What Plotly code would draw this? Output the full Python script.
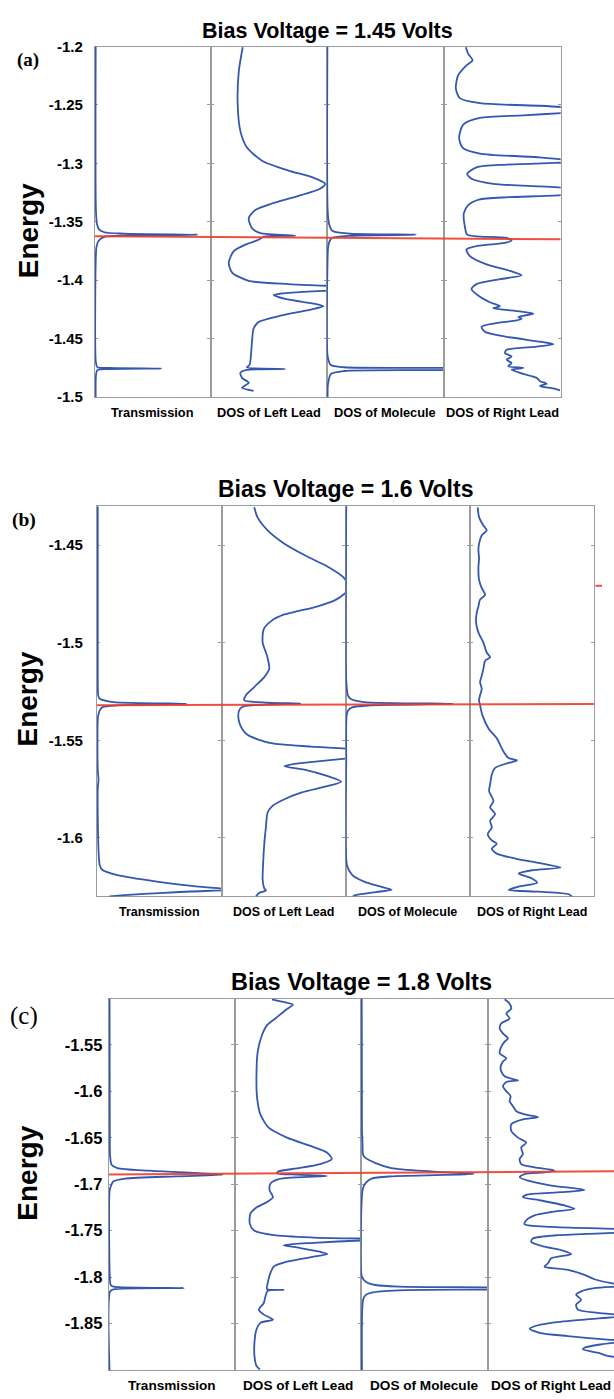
import plotly.graph_objects as go

W, H = 614, 1399

# ------------------------------------------------------------------ data
titles = ["Bias Voltage = 1.45 Volts", "Bias Voltage = 1.6 Volts", "Bias Voltage = 1.8 Volts"]
panel_tags = ["(a)", "(b)", "(c)"]
sub_labels = ["Transmission", "DOS of Left Lead", "DOS of Molecule", "DOS of Right Lead"]
y_label = "Energy"

y_ranges = [(-1.5, -1.2), (-1.63, -1.43), (-1.9, -1.5)]
tick_vals = [
    [-1.5, -1.45, -1.4, -1.35, -1.3, -1.25, -1.2],
    [-1.6, -1.55, -1.5, -1.45],
    [-1.85, -1.8, -1.75, -1.7, -1.65, -1.6, -1.55],
]
tick_text = [
    ["-1.5", "-1.45", "-1.4", "-1.35", "-1.3", "-1.25", "-1.2"],
    ["-1.6", "-1.55", "-1.5", "-1.45"],
    ["-1.85", "-1.8", "-1.75", "-1.7", "-1.65", "-1.6", "-1.55"],
]

# red line energy at the left and right end of each panel
fermi_pos = [0.0, 1.0]
fermi_a = [-1.3625, -1.3650]
fermi_b = [-1.5320, -1.5314]
fermi_c = [-1.6895, -1.6860]
# small red mark just right of panel (b)
dash_b_pos = [1.003, 1.016]
dash_b_E = [-1.4708, -1.4708]

# curves: (energy, value) ; value in units of subplot width
trans_a = [(-1.2, 0.006), (-1.34, 0.008), (-1.352, 0.017), (-1.3565, 0.035), (-1.359, 0.08),
           (-1.3602, 0.25), (-1.3611, 0.888), (-1.3618, 0.3), (-1.363, 0.08), (-1.3665, 0.03),
           (-1.372, 0.012), (-1.385, 0.006), (-1.47, 0.007), (-1.4745, 0.02), (-1.4752, 0.12),
           (-1.4757, 0.576), (-1.4762, 0.12), (-1.477, 0.02), (-1.482, 0.008), (-1.5, 0.006)]
left_a = [(-1.2006, 0.277), (-1.2217, 0.243), (-1.2499, 0.234), (-1.2724, 0.257), (-1.2865, 0.314),
          (-1.2977, 0.443), (-1.3062, 0.671), (-1.3118, 0.871), (-1.3175, 0.986), (-1.3217, 0.943),
          (-1.3287, 0.729), (-1.3344, 0.529), (-1.3400, 0.386), (-1.3470, 0.329), (-1.3555, 0.357),
          (-1.3597, 0.429), (-1.3620, 0.729), (-1.3628, 0.457), (-1.3654, 0.414), (-1.3696, 0.3),
          (-1.3752, 0.2), (-1.3851, 0.157), (-1.3935, 0.186), (-1.4006, 0.329), (-1.4034, 0.671),
          (-1.4048, 1.0), (-1.4068, 1.3), (-1.4090, 1.0), (-1.4110, 0.671), (-1.4127, 0.543),
          (-1.4161, 0.643), (-1.4203, 0.9), (-1.4223, 0.971), (-1.4251, 0.871), (-1.4302, 0.614),
          (-1.4358, 0.414), (-1.4414, 0.371), (-1.4527, 0.357), (-1.4724, 0.337), (-1.4747, 0.314),
          (-1.4761, 0.643), (-1.4769, 0.314), (-1.4794, 0.257), (-1.4837, 0.271), (-1.4879, 0.329),
          (-1.4921, 0.271), (-1.4949, 0.371)]
mol_a = [(-1.2, 0.006), (-1.34, 0.008), (-1.352, 0.02), (-1.358, 0.05), (-1.3602, 0.2),
         (-1.3611, 0.762), (-1.362, 0.2), (-1.3637, 0.05), (-1.3665, 0.025), (-1.372, 0.012),
         (-1.39, 0.006), (-1.465, 0.008), (-1.4727, 0.035), (-1.4746, 0.15), (-1.4752, 1.0),
         (-1.4761, 1.6), (-1.4770, 1.0), (-1.4778, 0.15), (-1.4805, 0.035), (-1.49, 0.01), (-1.5, 0.008)]
right_a = [(-1.2006, 0.189), (-1.2062, 0.209), (-1.2118, 0.246), (-1.2161, 0.194), (-1.2245, 0.123),
           (-1.2358, 0.103), (-1.2442, 0.137), (-1.2485, 0.309), (-1.2507, 0.823), (-1.2518, 1.01),
           (-1.2544, 1.3), (-1.2569, 1.01), (-1.2589, 0.68), (-1.2611, 0.309), (-1.2668, 0.166),
           (-1.2780, 0.131), (-1.2865, 0.16), (-1.2916, 0.309), (-1.2949, 0.823), (-1.2966, 1.01),
           (-1.2980, 1.3), (-1.2994, 1.01), (-1.3011, 0.537), (-1.3034, 0.28), (-1.3090, 0.2),
           (-1.3132, 0.237), (-1.3175, 0.423), (-1.3197, 0.823), (-1.3208, 1.0), (-1.3240, 1.2),
           (-1.3273, 1.0), (-1.3290, 0.55), (-1.3310, 0.3), (-1.3358, 0.209), (-1.3428, 0.171),
           (-1.3541, 0.18), (-1.3611, 0.2), (-1.3625, 0.28), (-1.3639, 0.537), (-1.3659, 0.58),
           (-1.3682, 0.523), (-1.3704, 0.309), (-1.3738, 0.194), (-1.3794, 0.223), (-1.3865, 0.366),
           (-1.3921, 0.566), (-1.3958, 0.666), (-1.3992, 0.48), (-1.4034, 0.28), (-1.4076, 0.237),
           (-1.4132, 0.294), (-1.4189, 0.394), (-1.4223, 0.48), (-1.4240, 0.423), (-1.4268, 0.651),
           (-1.4287, 0.766), (-1.4316, 0.637), (-1.4330, 0.666), (-1.4344, 0.623), (-1.4372, 0.423),
           (-1.4400, 0.323), (-1.4442, 0.351), (-1.4485, 0.537), (-1.4527, 0.823), (-1.4549, 0.937),
           (-1.4569, 0.794), (-1.4597, 0.537), (-1.4625, 0.523), (-1.4654, 0.58), (-1.4682, 0.537),
           (-1.4710, 0.58), (-1.4738, 0.551), (-1.4752, 0.68), (-1.4766, 0.58), (-1.4794, 0.651),
           (-1.4837, 0.794), (-1.4865, 0.823), (-1.4887, 0.88), (-1.4907, 0.823), (-1.4927, 0.937),
           (-1.4944, 0.994)]

trans_b = [(-1.43, 0.006), (-1.5195, 0.006), (-1.5271, 0.01), (-1.5287, 0.022), (-1.5304, 0.132),
           (-1.5313, 0.716), (-1.5321, 0.164), (-1.5330, 0.044), (-1.5347, 0.022), (-1.538, 0.008),
           (-1.565, 0.006), (-1.5701, 0.012), (-1.575, 0.006), (-1.614, 0.022), (-1.6165, 0.044),
           (-1.6191, 0.164), (-1.6224, 0.48), (-1.6249, 0.795), (-1.6266, 1.1), (-1.6275, 0.75),
           (-1.6283, 0.5), (-1.6292, 0.25), (-1.63, 0.1)]
left_b = [(-1.4306, 0.264), (-1.4356, 0.29), (-1.4424, 0.372), (-1.4492, 0.507), (-1.4559, 0.695),
          (-1.4610, 0.857), (-1.4661, 0.978), (-1.4678, 1.0), (-1.4711, 1.05), (-1.4745, 1.0),
          (-1.4779, 0.924), (-1.4813, 0.776), (-1.4838, 0.615), (-1.4855, 0.507), (-1.4889, 0.4),
          (-1.4931, 0.34), (-1.4999, 0.332), (-1.5066, 0.367), (-1.5134, 0.385), (-1.5176, 0.345),
          (-1.5227, 0.264), (-1.5269, 0.197), (-1.5295, 0.183), (-1.5307, 0.372), (-1.5312, 0.636),
          (-1.5317, 0.372), (-1.5325, 0.183), (-1.5337, 0.151), (-1.5371, 0.135), (-1.5422, 0.151),
          (-1.5472, 0.21), (-1.5515, 0.4), (-1.5532, 0.722), (-1.5543, 1.0), (-1.5570, 1.4),
          (-1.5594, 1.0), (-1.5608, 0.776), (-1.5621, 0.588), (-1.5633, 0.507), (-1.5650, 0.668),
          (-1.5684, 0.857), (-1.5712, 0.965), (-1.5734, 0.857), (-1.5768, 0.642), (-1.5802, 0.507),
          (-1.5836, 0.412), (-1.5870, 0.372), (-1.5946, 0.358), (-1.6030, 0.345), (-1.6115, 0.337),
          (-1.6216, 0.332), (-1.6259, 0.345), (-1.6270, 0.358), (-1.6284, 0.30), (-1.6301, 0.278)]
mol_b = [(-1.43, 0.006), (-1.5195, 0.006), (-1.5271, 0.02), (-1.5287, 0.04), (-1.5304, 0.15),
         (-1.5313, 0.86), (-1.5321, 0.2), (-1.5330, 0.06), (-1.5347, 0.02), (-1.5380, 0.008),
         (-1.56, 0.006), (-1.614, 0.012), (-1.6191, 0.055), (-1.6224, 0.15), (-1.6249, 0.277),
         (-1.6266, 0.371), (-1.6278, 0.245), (-1.6292, 0.088), (-1.63, 0.06)]
right_b = [(-1.4306, 0.062), (-1.4356, 0.073), (-1.4399, 0.108), (-1.4424, 0.135), (-1.4449, 0.095),
           (-1.4492, 0.073), (-1.4525, 0.068), (-1.4568, 0.073), (-1.4610, 0.068), (-1.4678, 0.073),
           (-1.4720, 0.095), (-1.4754, 0.122), (-1.4779, 0.081), (-1.4813, 0.068), (-1.4847, 0.054),
           (-1.4897, 0.049), (-1.4948, 0.068), (-1.4999, 0.108), (-1.5050, 0.135), (-1.5075, 0.162),
           (-1.5092, 0.122), (-1.5134, 0.108), (-1.5168, 0.095), (-1.5202, 0.081), (-1.5236, 0.095),
           (-1.5269, 0.081), (-1.5295, 0.073), (-1.5320, 0.081), (-1.5371, 0.1), (-1.5439, 0.149),
           (-1.5489, 0.216), (-1.5523, 0.243), (-1.5557, 0.27), (-1.5591, 0.311), (-1.5603, 0.378),
           (-1.5616, 0.311), (-1.5641, 0.203), (-1.5675, 0.176), (-1.5726, 0.162), (-1.5760, 0.154),
           (-1.5811, 0.189), (-1.5844, 0.162), (-1.5878, 0.203), (-1.5912, 0.162), (-1.5946, 0.176),
           (-1.5980, 0.143), (-1.6013, 0.176), (-1.6030, 0.216), (-1.6056, 0.176), (-1.6081, 0.216),
           (-1.6106, 0.365), (-1.6132, 0.581), (-1.6152, 0.73), (-1.6166, 0.5), (-1.6183, 0.392),
           (-1.6208, 0.5), (-1.6230, 0.541), (-1.6250, 0.392), (-1.6267, 0.311), (-1.6276, 0.554),
           (-1.6289, 0.797), (-1.6301, 0.824)]

trans_c = [(-1.5, 0.006), (-1.66, 0.008), (-1.672, 0.012), (-1.679, 0.022), (-1.6826, 0.068),
           (-1.6854, 0.317), (-1.6879, 0.689), (-1.6897, 0.907), (-1.6915, 0.534), (-1.6939, 0.13),
           (-1.6968, 0.037), (-1.7021, 0.016), (-1.7074, 0.006), (-1.80, 0.008), (-1.8085, 0.015),
           (-1.8102, 0.037), (-1.8117, 0.596), (-1.8131, 0.037), (-1.8155, 0.01), (-1.9, 0.006)]
left_c = [(-1.5008, 0.297), (-1.5037, 0.389), (-1.5065, 0.463), (-1.5126, 0.403), (-1.5215, 0.324),
          (-1.5286, 0.258), (-1.5393, 0.218), (-1.5571, 0.184), (-1.5821, 0.174), (-1.6070, 0.179),
          (-1.6248, 0.205), (-1.6391, 0.271), (-1.6498, 0.416), (-1.6587, 0.6), (-1.6658, 0.732),
          (-1.6729, 0.771), (-1.6783, 0.679), (-1.6829, 0.495), (-1.6861, 0.35), (-1.6882, 0.337),
          (-1.6897, 0.495), (-1.6911, 0.732), (-1.6925, 0.495), (-1.6950, 0.337), (-1.6996, 0.284),
          (-1.7068, 0.279), (-1.7139, 0.305), (-1.7192, 0.258), (-1.7246, 0.179), (-1.7317, 0.126),
          (-1.7424, 0.121), (-1.7495, 0.153), (-1.7549, 0.311), (-1.7574, 0.626), (-1.7584, 1.0),
          (-1.7595, 1.5), (-1.7606, 1.0), (-1.7631, 0.626), (-1.7656, 0.389), (-1.7681, 0.495),
          (-1.7727, 0.679), (-1.7752, 0.737), (-1.7780, 0.626), (-1.7834, 0.416), (-1.7887, 0.311),
          (-1.7958, 0.284), (-1.8065, 0.263), (-1.8129, 0.258), (-1.8137, 0.389), (-1.8147, 0.263),
          (-1.8208, 0.245), (-1.8279, 0.232), (-1.8350, 0.192), (-1.8404, 0.232), (-1.8457, 0.305),
          (-1.8493, 0.205), (-1.8564, 0.174), (-1.8707, 0.158), (-1.8849, 0.158), (-1.8956, 0.174),
          (-1.8995, 0.2)]
mol_c = [(-1.5, 0.008), (-1.64, 0.01), (-1.655, 0.014), (-1.6684, 0.019), (-1.6719, 0.04),
         (-1.6772, 0.117), (-1.6826, 0.24), (-1.6862, 0.55), (-1.6889, 0.889), (-1.6915, 0.24),
         (-1.6939, 0.086), (-1.6985, 0.04), (-1.7038, 0.019), (-1.7145, 0.009), (-1.7996, 0.009),
         (-1.8049, 0.04), (-1.8085, 0.117), (-1.8102, 0.3), (-1.8110, 1.0), (-1.8122, 1.6),
         (-1.8134, 1.0), (-1.8142, 0.3), (-1.8166, 0.086), (-1.8191, 0.04), (-1.8245, 0.019),
         (-1.9, 0.01)]
right_c = [(-1.5008, 0.132), (-1.5055, 0.171), (-1.5108, 0.184), (-1.5162, 0.145), (-1.5215, 0.171),
           (-1.5268, 0.105), (-1.5322, 0.092), (-1.5375, 0.118), (-1.5429, 0.158), (-1.5464, 0.132),
           (-1.5518, 0.105), (-1.5589, 0.092), (-1.5643, 0.145), (-1.5678, 0.118), (-1.5732, 0.1),
           (-1.5785, 0.105), (-1.5838, 0.132), (-1.5867, 0.197), (-1.5881, 0.237), (-1.5899, 0.145),
           (-1.5945, 0.118), (-1.5999, 0.145), (-1.6052, 0.179), (-1.6106, 0.171), (-1.6159, 0.197),
           (-1.6213, 0.224), (-1.6255, 0.316), (-1.6277, 0.395), (-1.6302, 0.276), (-1.6355, 0.184),
           (-1.6426, 0.184), (-1.6498, 0.237), (-1.6551, 0.303), (-1.6605, 0.263), (-1.6676, 0.276),
           (-1.6729, 0.25), (-1.6783, 0.263), (-1.6818, 0.368), (-1.6843, 0.5), (-1.6854, 0.526),
           (-1.6872, 0.447), (-1.6890, 0.289), (-1.6925, 0.25), (-1.6961, 0.316), (-1.7014, 0.5),
           (-1.7061, 0.763), (-1.7086, 0.579), (-1.7110, 0.316), (-1.7139, 0.276), (-1.7175, 0.421),
           (-1.7228, 0.605), (-1.7264, 0.684), (-1.7299, 0.5), (-1.7335, 0.368), (-1.7388, 0.303),
           (-1.7431, 0.289), (-1.7460, 0.5), (-1.7481, 1.0), (-1.7502, 1.3), (-1.7524, 1.0),
           (-1.7549, 0.553), (-1.7584, 0.355), (-1.7620, 0.342), (-1.7673, 0.447), (-1.7709, 0.579),
           (-1.7752, 0.658), (-1.7798, 0.5), (-1.7852, 0.474), (-1.7887, 0.447), (-1.7923, 0.632),
           (-1.7976, 0.763), (-1.8023, 0.842), (-1.8065, 0.974), (-1.8094, 1.1), (-1.8119, 0.842),
           (-1.8154, 0.737), (-1.8190, 0.697), (-1.8244, 0.737), (-1.8297, 0.697), (-1.8350, 0.711),
           (-1.8386, 0.868), (-1.8415, 1.1), (-1.8457, 0.763), (-1.8493, 0.5), (-1.8529, 0.368),
           (-1.8557, 0.329), (-1.8600, 0.408), (-1.8635, 0.632), (-1.8671, 0.921), (-1.8689, 1.1),
           (-1.8724, 0.895), (-1.8760, 0.763), (-1.8778, 0.75), (-1.8814, 0.868), (-1.8849, 0.947),
           (-1.8885, 1.1), (-1.8920, 1.1), (-1.8992, 1.0)]

curves = [
    [trans_a, left_a, mol_a, right_a],
    [trans_b, left_b, mol_b, right_b],
    [trans_c, left_c, mol_c, right_c],
]
fermi = [fermi_a, fermi_b, fermi_c]

# ------------------------------------------------------------------ layout geometry (px)
geom = [
    dict(xe=[95, 210.5, 326.7, 443.8, 560.7], top=38, bot=392.7, ext=0,
         title_xy=(327, 22), tag_xy=(28, 52), energy_xy=(28, 225),
         tfs=21.5, tagfont=("Liberation Serif", 19, "bold"), tickfs=15, stand=8, lblfs=12.8),
    dict(xe=[97, 221.5, 345.5, 470, 594], top=503.3, bot=898.3, ext=9,
         title_xy=(345, 486), tag_xy=(23.5, 517), energy_xy=(28, 699),
         tfs=23, tagfont=("Liberation Serif", 19.5, "bold"), tickfs=15, stand=10, lblfs=12.5),
    dict(xe=[108.8, 234.5, 360.7, 488, 614.4], top=1001.7, bot=1377.7, ext=0,
         title_xy=(361, 985), tag_xy=(24, 1019), energy_xy=(28, 1179),
         tfs=23.5, tagfont=("Liberation Serif", 25, "normal"), tickfs=16.5, stand=2, lblfs=13.6),
]

BLUE = "#3457b0"
RED = "rgba(240,60,40,0.9)"
GREY = "#9c9c9c"
SANS = "Liberation Sans, Arial, sans-serif"

fig = go.Figure()
layout = dict(width=W, height=H, autosize=False, margin=dict(l=0, r=0, t=0, b=0),
              paper_bgcolor="white", plot_bgcolor="rgba(0,0,0,0)", showlegend=False)
annotations = []

for p in range(3):
    g = geom[p]
    y0p, y1p = 1 - g["bot"] / H, 1 - g["top"] / H
    full_w = g["xe"][4] - g["xe"][0]
    for s in range(4):
        idx = p * 4 + s + 1
        sfx = "" if idx == 1 else str(idx)
        xl, xr = g["xe"][s], g["xe"][s + 1]
        w = xr - xl
        xr_c = min(xr, W)
        layout["xaxis" + sfx] = dict(
            domain=[xl / W, xr_c / W], range=[0, (xr_c - xl) / w], anchor="y" + sfx,
            showline=True, mirror=True, linecolor=GREY, linewidth=1.2, showticklabels=False,
            ticks="", showgrid=False, zeroline=False, fixedrange=True, layer="below traces")
        layout["yaxis" + sfx] = dict(
            domain=[y0p, y1p], range=list(y_ranges[p]), anchor="x" + sfx,
            showline=True, mirror=("ticks" if xr <= W else False), linecolor=GREY, linewidth=1.2,
            ticks="inside", ticklen=3, tickcolor=GREY, tickwidth=1,
            tickvals=tick_vals[p], ticktext=tick_text[p], showticklabels=(s == 0),
            tickfont=dict(family=SANS, size=g["tickfs"], color="black", weight="bold"),
            ticklabelstandoff=g["stand"],
            showgrid=False, zeroline=False, fixedrange=True, layer="below traces")
        data = curves[p][s]
        fig.add_trace(go.Scatter(
            x=[v for _, v in data], y=[e for e, _ in data], mode="lines",
            line=dict(color=BLUE, width=1.8, shape="spline", smoothing=0.7),
            xaxis="x" + sfx, yaxis="y" + sfx, hoverinfo="skip"))
        annotations.append(dict(
            text=sub_labels[s], xref="x" + sfx + " domain", x=0.5 if xr <= W else (w / 2) / (xr_c - xl),
            yref="paper", y=1 - (g["bot"] + 15.5) / H, xanchor="center", yanchor="middle",
            showarrow=False, font=dict(family=SANS, size=g["lblfs"], color="black", weight="bold")))

    # overlay axes for the red line spanning the whole panel
    oi = 13 + p
    right_px = min(g["xe"][4] + g["ext"], W)
    layout["xaxis%d" % oi] = dict(domain=[g["xe"][0] / W, right_px / W],
                                  range=[0, (right_px - g["xe"][0]) / full_w],
                                  anchor="y%d" % oi, visible=False, fixedrange=True)
    layout["yaxis%d" % oi] = dict(domain=[y0p, y1p], range=list(y_ranges[p]),
                                  anchor="x%d" % oi, visible=False, fixedrange=True)
    fig.add_trace(go.Scatter(x=fermi_pos, y=fermi[p], mode="lines",
                             line=dict(color=RED, width=2),
                             xaxis="x%d" % oi, yaxis="y%d" % oi, hoverinfo="skip"))
    if p == 1:
        fig.add_trace(go.Scatter(x=dash_b_pos, y=dash_b_E, mode="lines",
                                 line=dict(color=RED, width=2),
                                 xaxis="x%d" % oi, yaxis="y%d" % oi, hoverinfo="skip"))

    tx, ty = g["title_xy"]
    annotations.append(dict(text=titles[p], xref="paper", yref="paper", x=tx / W, y=1 - ty / H,
                            xanchor="center", yanchor="middle", showarrow=False,
                            font=dict(family=SANS, size=g["tfs"], color="black", weight="bold")))
    ax_, ay_ = g["tag_xy"]
    fam, fs, wt = g["tagfont"]
    annotations.append(dict(text=panel_tags[p], xref="paper", yref="paper", x=ax_ / W, y=1 - ay_ / H,
                            xanchor="center", yanchor="middle", showarrow=False,
                            font=dict(family=fam, size=fs, color="black", weight=wt)))
    ex, ey = g["energy_xy"]
    annotations.append(dict(text=y_label, xref="paper", yref="paper", x=ex / W, y=1 - ey / H,
                            xanchor="center", yanchor="middle", showarrow=False, textangle=-90,
                            font=dict(family=SANS, size=28, color="black", weight="bold")))

layout["annotations"] = annotations
fig.update_layout(**layout)
fig.write_html("out.html")
